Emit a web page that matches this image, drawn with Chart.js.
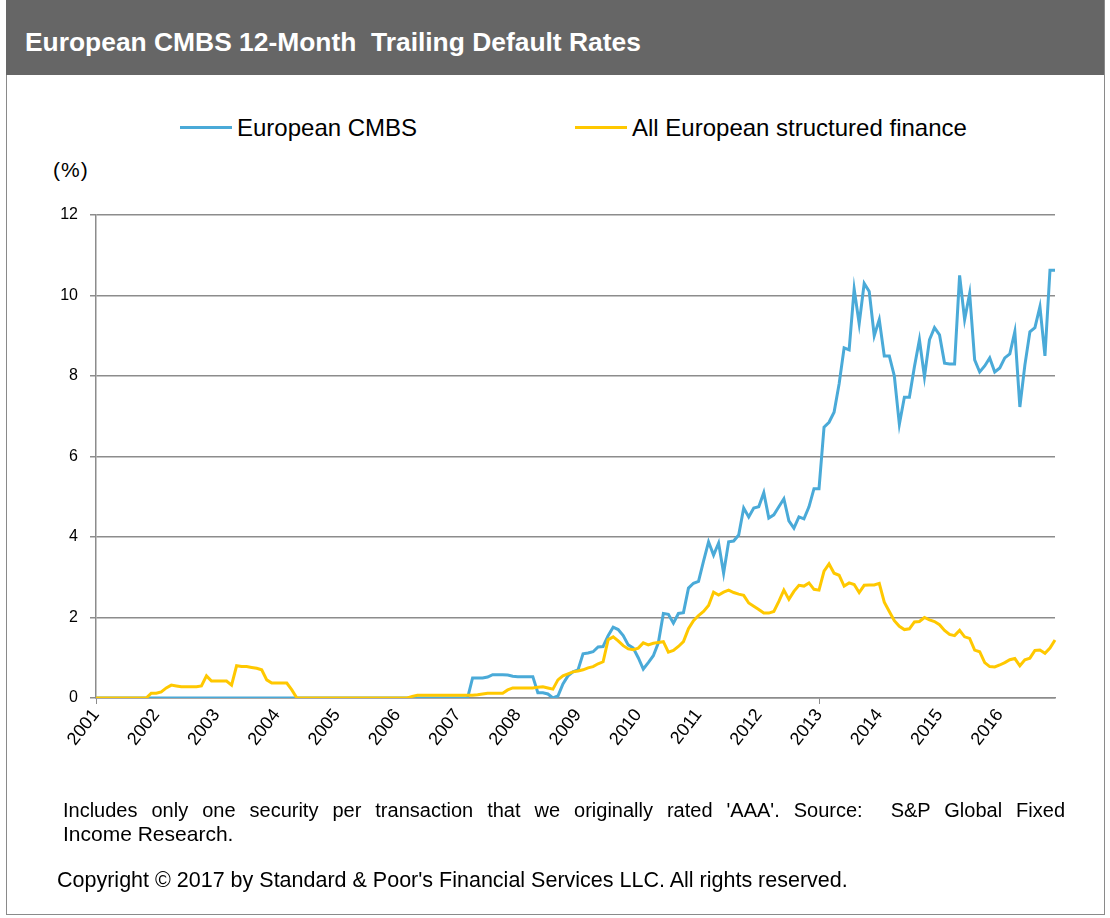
<!DOCTYPE html>
<html>
<head>
<meta charset="utf-8">
<script src="https://cdn.jsdelivr.net/npm/chart.js@4.4.1/dist/chart.umd.min.js"></script>
<style>
  html, body { margin: 0; padding: 0; background: #fff; }
  body { width: 1110px; height: 918px; position: relative; overflow: hidden; font-family: "Liberation Sans", Arial, sans-serif; color: #000; }
  #frame { position: absolute; left: 6px; top: 0; width: 1097px; height: 914px; border: 1px solid #8a8a8a; border-top: none; }
  #titlebar { position: absolute; left: 6px; top: 0; width: 1098px; height: 75px; background: #666666; }
  #title { position: absolute; left: 25px; top: 27px; color: #fff; font-weight: bold; font-size: 26.4px; white-space: pre; }
  .legend { position: absolute; top: 114px; font-size: 24px; white-space: nowrap; }
  .legend i { display: inline-block; width: 52px; height: 3px; vertical-align: middle; margin-right: 5px; position: relative; top: -2px; }
  #unit { position: absolute; left: 53px; top: 158px; font-size: 21px; letter-spacing: 1px; }
  .note { position: absolute; left: 63px; width: 1002px; font-size: 20px; white-space: nowrap; }
  #note1 { top: 799px; text-align: justify; text-align-last: justify; white-space: normal; }
  #note2 { top: 822px; font-size: 21px; }
  #copy { position: absolute; left: 57px; top: 868px; font-size: 21.5px; white-space: nowrap; }
  #chart { position: absolute; left: 0; top: 0; }
</style>
</head>
<body>
<div id="frame"></div>
<div id="titlebar"></div>
<div id="title">European CMBS 12-Month  Trailing Default Rates</div>
<div class="legend" style="left:180px"><i style="background:#4aaad8"></i>European CMBS</div>
<div class="legend" style="left:575px"><i style="background:#ffc800"></i>All European structured finance</div>
<div id="unit">(%)</div>
<canvas id="chart" width="1110" height="918"></canvas>
<div class="note" id="note1">Includes only one security per transaction that we originally rated 'AAA'. Source:&nbsp; S&amp;P Global Fixed</div>
<div class="note" id="note2">Income Research.</div>
<div id="copy">Copyright © 2017 by Standard &amp; Poor's Financial Services LLC. All rights reserved.</div>
<script>
  const years = [2001, 2002, 2003, 2004, 2005, 2006, 2007, 2008, 2009, 2010, 2011, 2012, 2013, 2014, 2015, 2016];
  const months = ['01', '02', '03', '04', '05', '06', '07', '08', '09', '10', '11', '12'];
  const yTicks = [0, 2, 4, 6, 8, 10, 12];

  // monthly 12-month trailing default rates (%), one row per year
  const cmbs = [
    0, 0, 0, 0, 0, 0, 0, 0, 0, 0, 0, 0,
    0, 0, 0, 0, 0, 0, 0, 0, 0, 0, 0, 0,
    0, 0, 0, 0, 0, 0, 0, 0, 0, 0, 0, 0,
    0, 0, 0, 0, 0, 0, 0, 0, 0, 0, 0, 0,
    0, 0, 0, 0, 0, 0, 0, 0, 0, 0, 0, 0,
    0, 0, 0, 0, 0, 0, 0, 0, 0, 0, 0, 0,
    0, 0, 0, 0.5, 0.5, 0.5, 0.52, 0.58, 0.58, 0.58, 0.57, 0.54,
    0.53, 0.53, 0.53, 0.53, 0.13, 0.13, 0.1, 0, 0.05, 0.35, 0.55, 0.65,
    0.7, 1.1, 1.12, 1.15, 1.27, 1.28, 1.55, 1.76, 1.7, 1.55, 1.32, 1.24,
    1.0, 0.72, 0.88, 1.05, 1.37, 2.1, 2.08, 1.86, 2.1, 2.12, 2.73, 2.85,
    2.9, 3.4, 3.88, 3.55, 3.85, 3.1, 3.88, 3.9, 4.05, 4.72, 4.5, 4.72,
    4.75, 5.1, 4.47, 4.55, 4.75, 4.95, 4.4, 4.22, 4.5, 4.45, 4.75, 5.2,
    5.2, 6.73, 6.85, 7.1, 7.8, 8.7, 8.65, 10.16, 9.3, 10.3, 10.1, 9.0,
    9.4, 8.5, 8.5, 8.0, 6.8, 7.47, 7.47, 8.23, 8.9, 7.98, 8.9, 9.2,
    9.02, 8.32, 8.3, 8.3, 10.5, 9.4, 10.05, 8.4, 8.1, 8.25, 8.45, 8.1,
    8.2, 8.45, 8.55, 9.1, 7.23, 8.27, 9.1, 9.2, 9.72, 8.5, 10.63, 10.63
  ];

  const allSF = [
    0, 0, 0, 0, 0, 0, 0, 0, 0, 0, 0, 0.12,
    0.12, 0.15, 0.25, 0.32, 0.3, 0.28, 0.28, 0.28, 0.28, 0.3, 0.55, 0.42,
    0.42, 0.42, 0.42, 0.32, 0.8, 0.78, 0.78, 0.76, 0.74, 0.7, 0.45, 0.37,
    0.37, 0.37, 0.37, 0.2, 0, 0, 0, 0, 0, 0, 0, 0,
    0, 0, 0, 0, 0, 0, 0, 0, 0, 0, 0, 0,
    0, 0, 0, 0.04, 0.07, 0.07, 0.07, 0.07, 0.07, 0.07, 0.07, 0.07,
    0.07, 0.07, 0.07, 0.07, 0.08, 0.1, 0.12, 0.12, 0.12, 0.12, 0.2, 0.25,
    0.25, 0.25, 0.25, 0.25, 0.27, 0.28, 0.25, 0.22, 0.45, 0.55, 0.6, 0.65,
    0.67, 0.7, 0.75, 0.78, 0.85, 0.9, 1.45, 1.52, 1.42, 1.3, 1.22, 1.2,
    1.24, 1.37, 1.32, 1.36, 1.38, 1.4, 1.14, 1.18, 1.28, 1.4, 1.72, 1.92,
    2.05, 2.15, 2.3, 2.63, 2.56, 2.63, 2.68, 2.62, 2.58, 2.55, 2.36, 2.28,
    2.2, 2.11, 2.11, 2.15, 2.4, 2.68, 2.45, 2.65, 2.8, 2.78, 2.86, 2.7,
    2.68, 3.15, 3.33, 3.1, 3.05, 2.78, 2.86, 2.82, 2.62, 2.8, 2.81, 2.81,
    2.85, 2.38, 2.15, 1.92, 1.78, 1.7, 1.72, 1.89, 1.9, 2.0, 1.94, 1.9,
    1.82, 1.68, 1.58, 1.55, 1.68, 1.52, 1.48, 1.19, 1.15, 0.88, 0.78, 0.77,
    0.82, 0.88, 0.95, 0.98, 0.8, 0.95, 0.99, 1.18, 1.19, 1.11, 1.24, 1.44
  ];

  const labels = [];
  years.forEach(y => months.forEach(m => labels.push(y + '-' + m)));

  const axisGrey = '#8c8c8c';

  new Chart(document.getElementById('chart'), {
    type: 'line',
    data: {
      labels: labels,
      datasets: [
        { label: 'European CMBS', data: cmbs, borderColor: '#4aaad8', borderWidth: 3, pointRadius: 0, tension: 0, order: 1 },
        { label: 'All European structured finance', data: allSF, borderColor: '#ffc800', borderWidth: 3, pointRadius: 0, tension: 0, order: 0 }
      ]
    },
    options: {
      responsive: false,
      animation: false,
      events: [],
      layout: { padding: { left: 0, top: 215, right: 55, bottom: 160 } },
      plugins: { legend: { display: false }, tooltip: { enabled: false } },
      scales: {
        x: {
          afterFit: s => { s.height = 60; },
          grid: {
            drawOnChartArea: false,
            drawTicks: true,
            tickLength: 6,
            tickColor: ctx => (ctx.index % 12 === 0 ? axisGrey : 'transparent')
          },
          border: { color: axisGrey, width: 1.5 },
          ticks: {
            autoSkip: false,
            minRotation: 52,
            maxRotation: 52,
            padding: 1,
            color: '#000',
            font: { family: '"Liberation Sans", Arial, sans-serif', size: 18 },
            callback: (v, i) => (i % 12 === 0 ? labels[i].slice(0, 4) : null)
          }
        },
        y: {
          min: 0,
          max: 12,
          afterFit: s => { s.width = 96; },
          afterBuildTicks: s => { s.ticks = yTicks.map(v => ({ value: v })); },
          grid: { color: axisGrey, lineWidth: 1.5, tickLength: 6, tickColor: axisGrey },
          border: { color: axisGrey, width: 1.5 },
          ticks: {
            padding: 12,
            color: '#000',
            font: { family: '"Liberation Sans", Arial, sans-serif', size: 16 }
          }
        }
      }
    }
  });
</script>
</body>
</html>
